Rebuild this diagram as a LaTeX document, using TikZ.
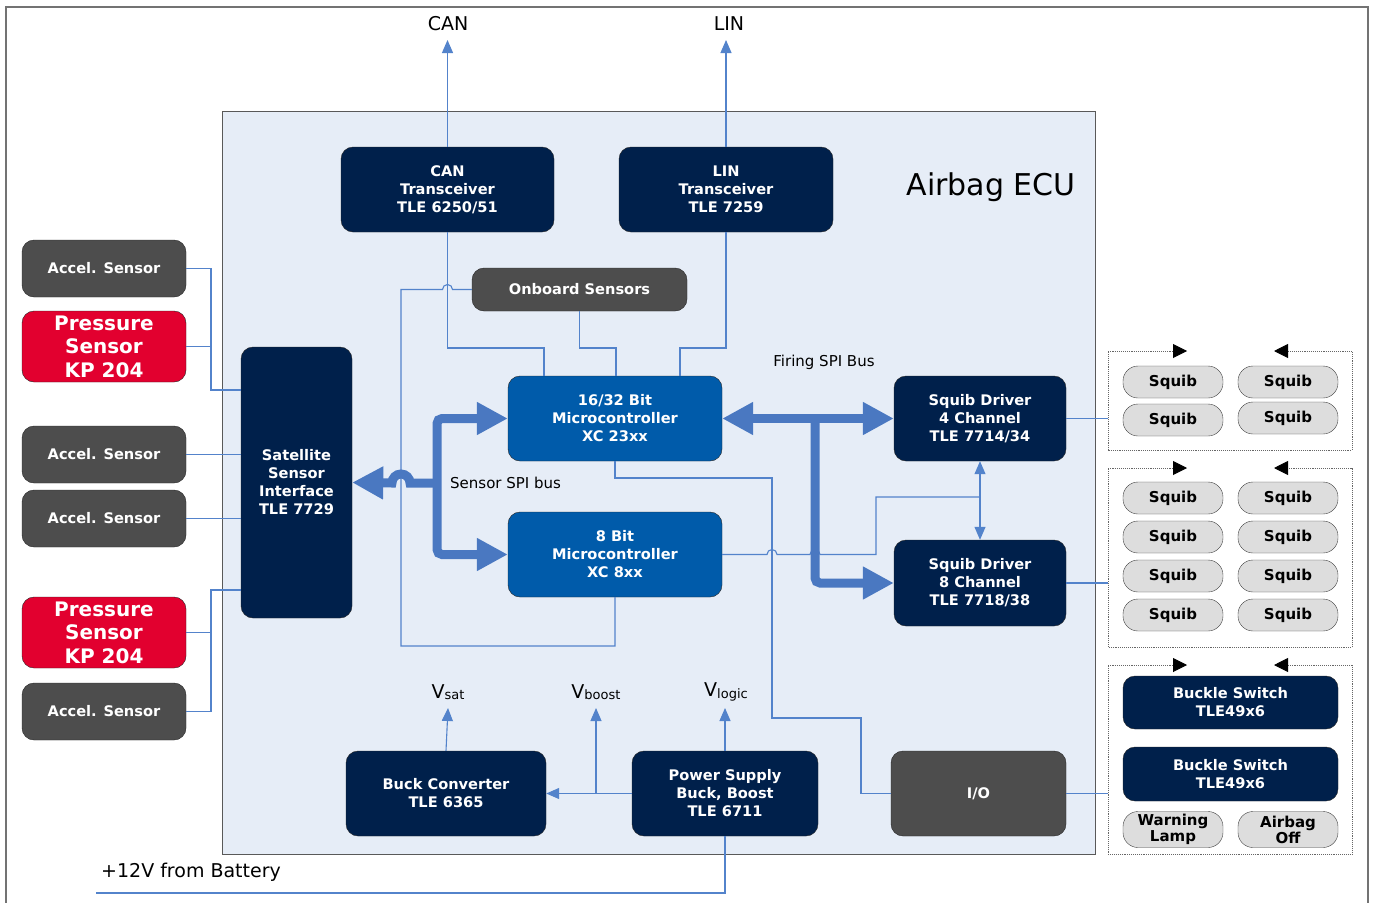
\documentclass[tikz,border=0pt]{standalone}
\usepackage{fontspec}
\setmainfont{DejaVu Sans}
\usetikzlibrary{arrows.meta,calc}

\definecolor{azulosc}{HTML}{00204B}
\definecolor{azulmc}{HTML}{005BAA}
\definecolor{grisbox}{HTML}{4D4D4D}
\definecolor{rojobox}{HTML}{E2002F}
\definecolor{grisclaro}{HTML}{DDDDDD}
\definecolor{fondoecu}{HTML}{E6EDF7}
\definecolor{azulcable}{HTML}{5383CB}
\definecolor{azulbus}{HTML}{4A78C1}

\begin{document}
\begin{tikzpicture}[x=1pt,y=-1pt]
	
	% --- estilos ---
	\tikzset{
		tipfino/.tip = {Triangle[length=13pt,width=11pt]},
		tipbus/.tip  = {Triangle[length=31pt,width=31pt]},
		tipnegro/.tip = {Triangle[length=14pt,width=14pt,color=black]},
		tam/.style 2 args = {minimum width=#1, minimum height=#2},
		caja/.style   = {draw=black!85, rounded corners=12pt, align=center, text=white,
			inner sep=2pt, font=\bfseries\fontsize{14.6}{18}\selectfont},
		oscura/.style = {caja, fill=azulosc},
		micro/.style  = {caja, fill=azulmc},
		gris/.style   = {caja, fill=grisbox},
		roja/.style   = {caja, fill=rojobox, font=\bfseries\fontsize{20}{23.5}\selectfont},
		squib/.style  = {draw=black!75, fill=grisclaro, rounded corners=15pt, tam={100pt}{32pt},
			inner sep=1pt, align=center, font=\bfseries\fontsize{15}{17}\selectfont},
		cable/.style  = {draw=azulcable, line width=1.1pt},
		bus/.style    = {draw=azulbus, line width=9pt},
		grupo/.style  = {draw=black!60, densely dotted, line width=0.9pt},
		etiq/.style   = {inner sep=2pt, font=\fontsize{15}{18}\selectfont},
		grande/.style = {inner sep=2pt, font=\fontsize{19}{22}\selectfont},
	}
	
	% macro para los marcos de squibs (esquina sup. izq. / inf. der.)
	\newcommand{\Marco}[4]{%
		\draw[grupo, tipnegro-tipnegro] ({#1+79},#2) -- (#1,#2) -- (#1,#4)
		-- (#3,#4) -- (#3,#2) -- ({#3-78},#2);
	}
	\newcommand{\Vsub}[2]{{\fontsize{19}{20}\selectfont #1}\raisebox{-1.5pt}{\fontsize{13}{14}\selectfont #2}}
	
	\useasboundingbox (0,0) rectangle (1375,902);
	
	% marco exterior y ECU
	\draw[draw=black!55, line width=1.3pt] (6,7) rectangle (1368,930);
	\draw[fill=fondoecu, draw=black!65, line width=1pt] (222,111) rectangle (1095,854);
	\node[inner sep=0pt, font=\fontsize{30}{36}\selectfont] (titulo) at (991,187) {Airbag ECU};
	
	% --- transceptores ---
	\node[oscura, tam={213pt}{85pt}] (can) at (447.5,189.5) {CAN\\Transceiver\\TLE 6250/51};
	\node[oscura, tam={214pt}{85pt}] (lin) at (726,189.5) {LIN\\Transceiver\\TLE 7259};
	\node[grande] (canT) at (448,24) {CAN};
	\node[grande] (linT) at (729,24) {LIN};
	\coordinate (canP) at (447.5,40);
	\coordinate (linP) at (726,40);
	
	% --- sensores externos ---
	\node[gris, tam={164pt}{57pt}] (acc1) at (104,268.5) {Accel. Sensor};
	\node[roja, tam={164pt}{71pt}] (prs1) at (104,346.5) {Pressure\\Sensor\\KP 204};
	\node[gris, tam={164pt}{57pt}] (acc2) at (104,454.5) {Accel. Sensor};
	\node[gris, tam={164pt}{57pt}] (acc3) at (104,518.5) {Accel. Sensor};
	\node[roja, tam={164pt}{71pt}] (prs2) at (104,632.5) {Pressure\\Sensor\\KP 204};
	\node[gris, tam={164pt}{57pt}] (acc4) at (104,711.5) {Accel. Sensor};
	
	% --- bloques internos ---
	\node[oscura, tam={111pt}{271pt}] (ssi) at (296.5,482.5) {Satellite\\Sensor\\Interface\\TLE 7729};
	\node[gris, tam={215pt}{43pt}] (onb) at (579.5,289.5) {Onboard Sensors};
	\node[micro, tam={214pt}{85pt}] (mcA) at (615,418.5) {16/32 Bit\\Microcontroller\\XC 23xx};
	\node[micro, tam={214pt}{85pt}] (mcB) at (615,554.5) {8 Bit\\Microcontroller\\XC 8xx};
	\node[oscura, tam={172pt}{85pt}] (drv4) at (980,418.5) {Squib Driver\\4 Channel\\TLE 7714/34};
	\node[oscura, tam={172pt}{86pt}] (drv8) at (980,583) {Squib Driver\\8 Channel\\TLE 7718/38};
	\node[oscura, tam={200pt}{85pt}] (buck) at (446,793.5) {Buck Converter\\TLE 6365};
	\node[oscura, tam={186pt}{85pt}] (psu) at (725,793.5) {Power Supply\\Buck, Boost\\TLE 6711};
	\node[gris, tam={175pt}{85pt}] (io) at (978.5,793.5) {I/O};
	
	\node[etiq] (fspi) at (824,362) {Firing SPI Bus};
	\node[etiq, anchor=west] (sspi) at (448,483) {Sensor SPI bus};
	
	% --- tensiones ---
	\node (vsat) at (448,692) {\Vsub{V}{sat}};
	\node (vboost) at (596,692) {\Vsub{V}{boost}};
	\node (vlogic) at (726,692) {\Vsub{V}{logic}};
	\node[grande, anchor=west] (bat) at (99,872) {+12V from Battery};
	\coordinate (vsatP) at (448,708);
	\coordinate (vboostP) at (596,708);
	\coordinate (vlogicP) at (725,708);
	\coordinate (jB) at (596,793.5);
	\coordinate (batP) at (96,893);
	
	% --- squibs y marcos ---
	\foreach \n/\x/\y in {a/1173/382, b/1288/382, c/1173/420, d/1288/418,
		e/1173/498, f/1288/498, g/1173/537, h/1288/537,
		i/1173/576, j/1288/576, k/1173/615, l/1288/615}
	\node[squib] (sq\n) at (\x,\y) {Squib};
	\node[oscura, tam={215pt}{53pt}] (bk1) at (1230.5,702.5) {Buckle Switch\\TLE49x6};
	\node[oscura, tam={215pt}{54pt}] (bk2) at (1230.5,774) {Buckle Switch\\TLE49x6};
	\node[squib, tam={100pt}{36pt}, font=\bfseries\fontsize{15}{16}\selectfont] (lamp) at (1173,829.5) {Warning\\Lamp};
	\node[squib, tam={100pt}{36pt}, font=\bfseries\fontsize{15}{16}\selectfont] (off) at (1288,829.5) {Airbag\\Off};
	
	\Marco{1108}{351}{1352}{450}
	\Marco{1108}{468}{1352}{647}
	\Marco{1108}{665}{1352}{854}
	\coordinate (mg) at (1108,0);
	
	% --- cables finos ---
	\draw[cable, -tipfino] (can.north) -- (canP);
	\draw[cable, -tipfino] (lin.north) -- (linP);
	\coordinate (kA) at (544,348);
	\coordinate (kB) at (616,348);
	\coordinate (kC) at (680,348);
	\draw[cable] (can.south) |- (kA) -- (kA |- mcA.north);
	\draw[cable] (onb.south) |- (kB) -- (kB |- mcA.north);
	\draw[cable] (lin.south) |- (kC) -- (kC |- mcA.north);
	\draw[cable] (mcB.south) |- (401,646) -- (401,289.5) -- (442.5,289.5)
	arc[start angle=180, end angle=360, radius=5] -- (onb.west);
	\draw[cable] (mcA.south) |- (772,478) |- (861,718) |- (io.west);
	\coordinate (jD) at (980,497);
	\draw[cable] (mcB.east) -- (767,554.5) arc[start angle=180, end angle=360, radius=5]
	-- (810,554.5) arc[start angle=180, end angle=360, radius=5] -- (876,554.5) |- (jD);
	\draw[cable, tipfino-tipfino] (drv4.south) -- (drv8.north);
	
	% sensores -> interfaz
	\coordinate (sA) at (211,390);
	\coordinate (sB) at (211,590);
	\draw[cable] (acc1.east) -| (sA) -- (sA -| ssi.west);
	\draw[cable] (prs1.east) -- (prs1.east -| sA);
	\draw[cable] (acc2.east) -- (acc2.east -| ssi.west);
	\draw[cable] (acc3.east) -- (acc3.east -| ssi.west);
	\draw[cable] (acc4.east) -| (sB) -- (sB -| ssi.west);
	\draw[cable] (prs2.east) -- (prs2.east -| sB);
	
	% drivers -> squibs
	\draw[cable] (drv4.east) -- (drv4.east -| mg);
	\draw[cable] (drv8.east) -- (drv8.east -| mg);
	\draw[cable] (io.east) -- (io.east -| mg);
	
	% alimentacion
	\draw[cable, -tipfino] (buck.north) -- (vsatP);
	\draw[cable, -tipfino] (psu.north) -- (vlogicP);
	\draw[cable, -tipfino] (psu.west) -- (buck.east);
	\draw[cable, -tipfino] (jB) -- (vboostP);
	\draw[cable] (batP) -| (psu.south);
	
	% --- buses SPI ---
	\coordinate (sb) at (437,483);
	\coordinate (jF) at (815,418.5);
	\draw[bus, tipbus-tipbus, rounded corners=5pt] (mcA.west) -| (sb) |- (mcB.west);
	\draw[bus, -tipbus] (sb) -- (410,483) arc[start angle=0, end angle=-180, radius=9] -- (ssi.east);
	\draw[bus, tipbus-tipbus] (mcA.east) -- (drv4.west);
	\draw[bus, -tipbus, rounded corners=5pt] (jF) |- (drv8.west);
	
\end{tikzpicture}
\end{document}
